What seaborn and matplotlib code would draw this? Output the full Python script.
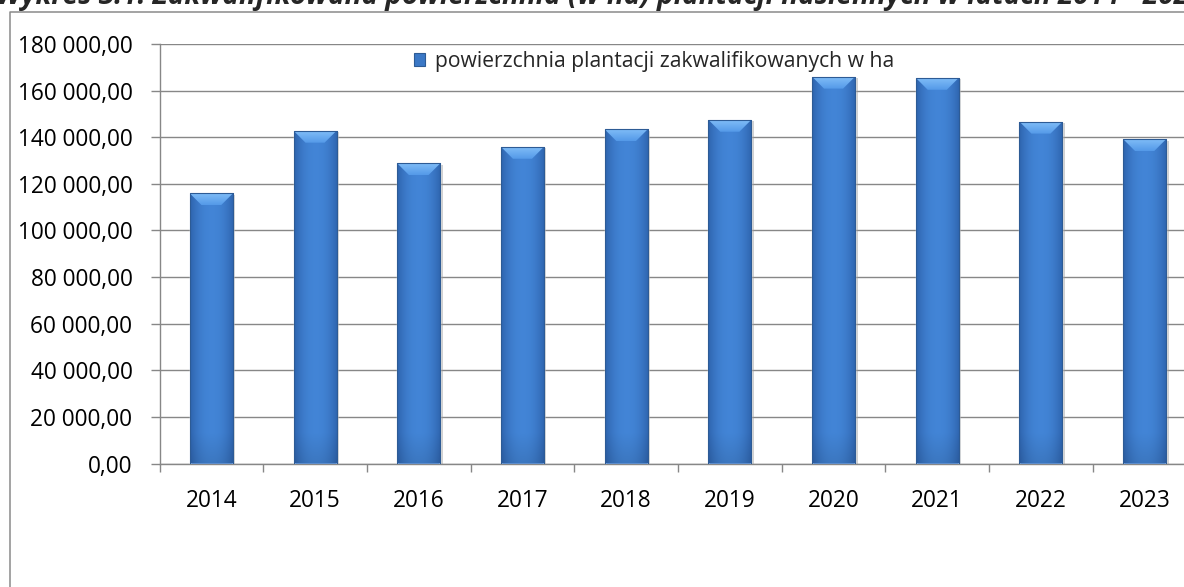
import numpy as np
import pandas as pd
import matplotlib
matplotlib.use("Agg")
import matplotlib.pyplot as plt
import matplotlib.transforms as mtransforms
import seaborn as sns
from matplotlib.patches import Polygon, Rectangle, Patch
from matplotlib.lines import Line2D
from matplotlib.ticker import FuncFormatter, FixedLocator

# --- data -------------------------------------------------------------
years = ["2014", "2015", "2016", "2017", "2018", "2019", "2020", "2021", "2022", "2023"]
area_ha = [115900, 142800, 128800, 135900, 143400, 147500, 166000, 165500, 146700, 139200]
series_label = "powierzchnia plantacji zakwalifikowanych w ha"
title = "Wykres 3.1. Zakwalifikowana powierzchnia (w ha) plantacji nasiennych w latach 2014 - 2023"
y_ticks = [0, 20000, 40000, 60000, 80000, 100000, 120000, 140000, 160000, 180000]

# --- style ------------------------------------------------------------
sns.set_theme(style="white")
plt.rcParams["font.family"] = ["Open Sans", "DejaVu Sans"]

W, H, DPI = 1184, 587, 100
GRID = "#878787"
fig = plt.figure(figsize=(W / DPI, H / DPI), dpi=DPI)
fig.patch.set_facecolor("white")

# plot area (extends slightly past the right edge of the canvas)
ax = fig.add_axes([159.5 / W, (H - 463.5) / H, 1037 / W, 419.5 / H])

df = pd.DataFrame({"rok": years, "ha": area_ha})
sns.barplot(data=df, x="rok", y="ha", width=0.415, color="#3b78c6",
            saturation=1, ax=ax, zorder=3)
ax.set_xlim(-0.5, len(years) - 0.5)
ax.set_ylim(y_ticks[0], y_ticks[-1])

# pixel scale of the data axes
p0 = ax.transData.transform((0, 0))
p1 = ax.transData.transform((1, 1))
px_x = p1[0] - p0[0]
px_y = p1[1] - p0[1]

edge_c = np.array([0.18, 0.39, 0.68])
mid_c = np.array([0.26, 0.52, 0.84])
bev_top = np.array([0.50, 0.74, 0.97])
bev_bot = np.array([0.33, 0.60, 0.91])

shadow_tr = mtransforms.offset_copy(ax.transData, fig=fig, x=2.5, y=-1.5, units="dots")

for bar in list(ax.patches):
    x0, y0 = bar.get_x(), bar.get_y()
    w, h = bar.get_width(), bar.get_height()
    top = y0 + h

    # soft drop shadow
    ax.add_patch(Rectangle((x0, y0), w, h, transform=shadow_tr,
                           facecolor="#9a9a9a", edgecolor="none", alpha=0.45, zorder=2.5))

    # body shading: darker at the sides and slightly towards the base
    nx, ny = 64, 256
    t = np.linspace(0, 1, nx)
    f = 1 - np.abs(2 * t - 1) ** 2.2
    row = edge_c[None, :] + (mid_c - edge_c)[None, :] * f[:, None]
    hpx = h * px_y
    ypx = np.linspace(0, hpx, ny)
    dark = np.clip(1 - ypx / 30.0, 0, 1) * 0.10
    img = row[None, :, :] * (1 - dark[:, None, None])
    im = ax.imshow(img, extent=[x0, x0 + w, y0, top], origin="lower",
                   aspect="auto", interpolation="bilinear", zorder=4)
    im.set_clip_path(bar)

    # top bevel
    dx, dy = 12 / px_x, 12 / px_y
    bevel = Polygon([(x0, top), (x0 + w, top), (x0 + w - dx, top - dy), (x0 + dx, top - dy)],
                    closed=True, facecolor="none", edgecolor="none", zorder=5)
    ax.add_patch(bevel)
    v = np.linspace(0, 1, 32)
    bimg = (bev_bot[None, :] + (bev_top - bev_bot)[None, :] * v[:, None])[:, None, :]
    bimg = np.repeat(bimg, 4, axis=1)
    bim = ax.imshow(bimg, extent=[x0, x0 + w, top - dy, top], origin="lower",
                    aspect="auto", interpolation="bilinear", zorder=5)
    bim.set_clip_path(bevel)

    # outline
    ax.add_patch(Rectangle((x0, y0), w, h, fill=False, edgecolor="#2d5b95",
                           linewidth=0.8, zorder=6))

ax.set_xlim(-0.5, len(years) - 0.5)
ax.set_ylim(y_ticks[0], y_ticks[-1])

# --- axes, ticks, grid --------------------------------------------------
ax.set_xlabel("")
ax.set_ylabel("")
ax.yaxis.set_major_locator(FixedLocator(y_ticks))
ax.yaxis.set_major_formatter(FuncFormatter(lambda v, _: f"{int(v):,}".replace(",", " ") + ",00"))
ax.set_axisbelow(True)
ax.grid(axis="y", color=GRID, linewidth=1.0, zorder=0)
ax.grid(axis="x", visible=False)

ax.set_xticks(range(len(years)))
ax.set_xticklabels(years)
ax.set_xticks(np.arange(-0.5, len(years)), minor=True)
ax.tick_params(axis="x", which="major", length=0, pad=18.5, labelsize=16.3, labelcolor="black")
ax.tick_params(axis="x", which="minor", length=5.5, width=1.0, color=GRID, bottom=True)
ax.tick_params(axis="y", which="major", length=6.5, width=1.0, color=GRID, left=True,
               pad=13, labelsize=16.3, labelcolor="black")

for side in ("top", "right"):
    ax.spines[side].set_visible(False)
for side in ("left", "bottom"):
    ax.spines[side].set_color(GRID)
    ax.spines[side].set_linewidth(1.0)

# --- legend -----------------------------------------------------------
handle = Patch(facecolor="#3b78c6", edgecolor="#2d5b95", linewidth=0.8)
fig.legend([handle], [series_label], loc="center",
           bbox_to_anchor=(654 / W, 1 - 61.5 / H), frameon=False,
           fontsize=15.2, handlelength=0.55, handleheight=0.55,
           handletextpad=0.45, borderpad=0, borderaxespad=0)

# --- chart frame and heading ------------------------------------------
fig.add_artist(Line2D([9.5 / W, 9.5 / W, 1.02], [-0.02, 1 - 11.5 / H, 1 - 11.5 / H],
                      transform=fig.transFigure, color="#8a8a8a", linewidth=1.1))
fig.text(-4 / W, 1 - 4 / H, title, fontsize=20.2, fontweight="bold", fontstyle="italic",
         ha="left", va="baseline")

fig.savefig("out.png", dpi=DPI)
